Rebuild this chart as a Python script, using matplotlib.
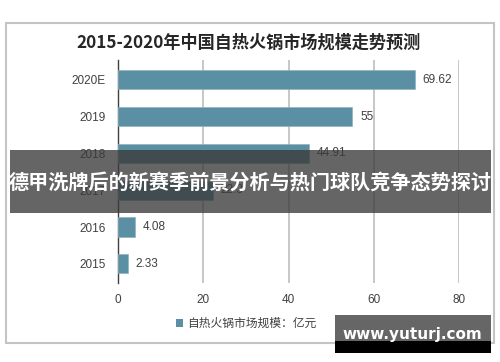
import matplotlib
matplotlib.use("Agg")
import matplotlib.pyplot as plt
from matplotlib.patches import Rectangle

plt.rcParams['font.family'] = ['Noto Sans CJK SC', 'DejaVu Sans']

categories = ['2015', '2016', '2017', '2018', '2019', '2020E']
values = [2.33, 4.08, 22.3, 44.91, 55, 69.62]
value_labels = ['2.33', '4.08', '22.3', '44.91', '55', '69.62']
xticks = [0, 20, 40, 60, 80]
title = '2015-2020年中国自热火锅市场规模走势预测'
legend_label = '自热火锅市场规模：亿元'
banner = '德甲洗牌后的新赛季前景分析与热门球队竞争态势探讨'
watermark = 'www.yuturj.com'

W, H = 500, 362
fig = plt.figure(figsize=(5, 3.62), dpi=100)

def fx(px):
    return px / W

def fy(py):
    return 1 - py / H

# outer frame
fig.patches.append(Rectangle((fx(6), fy(343)), fx(494) - fx(6), fy(23) - fy(343),
                             transform=fig.transFigure, fill=False,
                             edgecolor='#c4c4c4', linewidth=1.5, zorder=0))

ax = fig.add_axes([fx(118), fy(283), fx(459) - fx(118), fy(60) - fy(283)])
bar_color = '#5b8fa3'
y = list(range(len(categories)))
ax.barh(y, values, height=0.52, color=bar_color, edgecolor='#8fb3c1', linewidth=0.5, zorder=3)
for yi, v, lab in zip(y, values, value_labels):
    ax.text(v + 1.8, yi, lab, va='center', ha='left', fontsize=8.5, color='#404040',
            family=['Liberation Sans', 'DejaVu Sans'], zorder=4)

ax.set_xlim(0, 80)
ax.set_ylim(-0.52, 5.54)
ax.set_xticks(xticks)
ax.set_xticklabels([str(t) for t in xticks], family=['Liberation Sans', 'DejaVu Sans'])
ax.set_yticks(y)
ax.set_yticklabels(categories, family=['Liberation Sans', 'DejaVu Sans'])
ax.tick_params(axis='both', length=0, labelsize=8.5, labelcolor='#404040')
ax.tick_params(axis='x', pad=8)
ax.tick_params(axis='y', pad=9)
for s in ['top', 'right', 'bottom']:
    ax.spines[s].set_visible(False)
ax.spines['left'].set_color('#404040')
ax.spines['left'].set_linewidth(1.0)
ax.grid(axis='x', color='#bdbdbd', linewidth=1.2, zorder=0)
ax.set_axisbelow(True)

fig.text(fx(249), fy(43), title, ha='center', va='center', fontsize=12.3,
         fontweight='bold', color='#262626')

# legend
fig.patches.append(Rectangle((fx(176), fy(327)), fx(7), fy(319) - fy(327),
                             transform=fig.transFigure, facecolor=bar_color, edgecolor='none'))
fig.text(fx(187), fy(323), legend_label, ha='left', va='center', fontsize=8.5, color='#404040')

# banner overlay
fig.patches.append(Rectangle((fx(10), fy(213)), fx(491) - fx(10), fy(150) - fy(213),
                             transform=fig.transFigure, facecolor='#3a3a3a', alpha=0.78,
                             edgecolor='none', zorder=10))
fig.text(fx(250.5), fy(182), banner, ha='center', va='center', fontsize=14.5,
         fontweight='bold', color='white', zorder=11)

# watermark
fig.patches.append(Rectangle((fx(335), fy(341)), fx(491) - fx(335), fy(315) - fy(341),
                             transform=fig.transFigure, facecolor='#666666', edgecolor='none', zorder=10))
fig.patches.append(Rectangle((fx(335), fy(353)), fx(491) - fx(335), fy(341) - fy(353),
                             transform=fig.transFigure, facecolor='#000000', edgecolor='none', zorder=10))
fig.text(fx(412), fy(334), watermark, ha='center', va='center', fontsize=11,
         fontweight='bold', color='white', zorder=11, family=['DejaVu Sans'])

fig.savefig('out.png', dpi=100)
